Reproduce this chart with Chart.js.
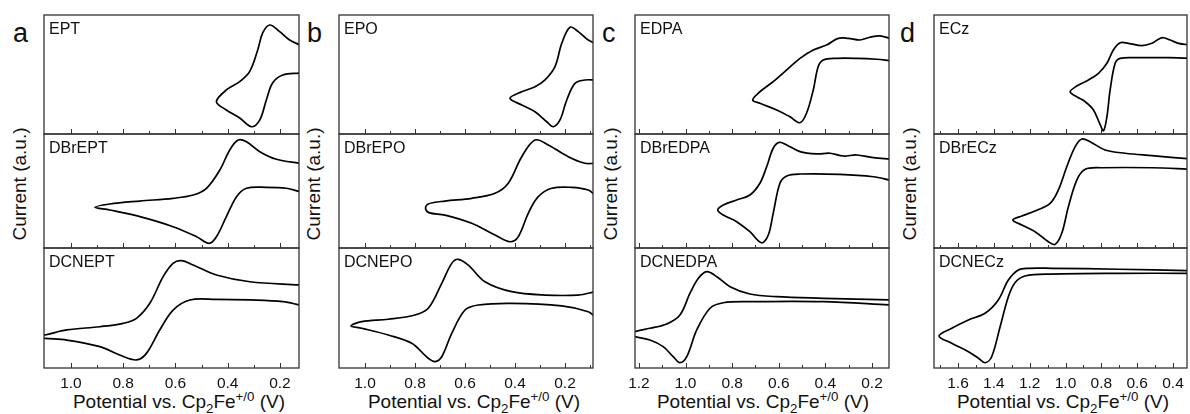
<!DOCTYPE html>
<html lang="en">
  <head>
    <meta charset="utf-8" />
    <title>Cyclic voltammograms</title>
    <style>
      * {
        margin: 0;
        padding: 0;
      }
      body {
        width: 1190px;
        height: 414px;
        position: relative;
        overflow: hidden;
        background: #fff;
        color: #111;
        font-family: "Liberation Sans", Arial, sans-serif;
      }
      .box {
        position: absolute;
      }
      .letter {
        position: absolute;
        font-size: 27px;
        line-height: 1;
      }
      .ytitle {
        position: absolute;
        top: 184px;
        font-size: 19px;
        line-height: 1;
        white-space: nowrap;
        transform: translate(-50%, -50%) rotate(-90deg);
      }
      .xtitle {
        position: absolute;
        top: 392px;
        font-size: 19px;
        line-height: 1;
        white-space: nowrap;
        transform: translateX(-50%);
      }
      sub,
      sup {
        font-size: 70%;
        line-height: 0;
      }
    </style>
  </head>
  <body>
    <div class="letter" style="left: 13px; top: 20px">a</div>
    <div class="letter" style="left: 307px; top: 20px">b</div>
    <div class="letter" style="left: 602px; top: 20px">c</div>
    <div class="letter" style="left: 900px; top: 20px">d</div>

    <div class="ytitle" style="left: 19px">Current (a.u.)</div>
    <div class="ytitle" style="left: 313px">Current (a.u.)</div>
    <div class="ytitle" style="left: 610px">Current (a.u.)</div>
    <div class="ytitle" style="left: 909px">Current (a.u.)</div>

    <div class="xtitle" style="left: 179px">Potential vs. Cp<sub>2</sub>Fe<sup>+/0</sup> (V)</div>
    <div class="xtitle" style="left: 474px">Potential vs. Cp<sub>2</sub>Fe<sup>+/0</sup> (V)</div>
    <div class="xtitle" style="left: 763px">Potential vs. Cp<sub>2</sub>Fe<sup>+/0</sup> (V)</div>
    <div class="xtitle" style="left: 1063px">Potential vs. Cp<sub>2</sub>Fe<sup>+/0</sup> (V)</div>

    <script src="https://cdn.jsdelivr.net/npm/chart.js"></script>
    <script>
      // data: each loop is traced upper branch (right -> left tip), then lower branch (tip -> right)
      // panel a
      const eptE = [0.124, 0.163, 0.201, 0.239, 0.266, 0.285, 0.316, 0.354, 0.405, 0.443,
        0.405, 0.354, 0.308, 0.277, 0.252, 0.228, 0.189, 0.124];
      const eptI = [74.8, 79, 86, 91.6, 84.9, 70.6, 52.4, 44, 37, 27.1,
        20.2, 13.4, 6.1, 11.8, 28.6, 42.9, 49.6, 51.3];

      const dbreptE = [0.124, 0.213, 0.277, 0.328, 0.36, 0.392, 0.43, 0.481, 0.532, 0.609, 0.736, 0.851, 0.908,
        0.851, 0.736, 0.609, 0.519, 0.471, 0.443, 0.405, 0.366, 0.328, 0.252, 0.175, 0.124];
      const dbreptI = [74.3, 77.8, 84.5, 93.2, 94.7, 86, 68.4, 52.4, 46.5, 43.6, 41.2, 38.6, 35.7,
        33.3, 27.5, 18.7, 9.9, 4.1, 9.9, 27.5, 45, 52.4, 53.2, 52.4, 49.4];

      const dcneptE = [0.124, 0.315, 0.443, 0.532, 0.577, 0.609, 0.647, 0.698, 0.749, 0.8, 0.889, 1.016, 1.099, 1.14,
        1.099, 1.016, 0.889, 0.813, 0.749, 0.711, 0.66, 0.609, 0.545, 0.443, 0.315, 0.188, 0.124];
      const dcneptI = [69.2, 71.9, 77.5, 85.8, 89.4, 87.2, 76.1, 53.9, 41.4, 37.2, 34.4, 31.7, 27.5, 26,
        24.7, 23.3, 17.8, 10.8, 6.7, 12.2, 31.7, 48.3, 56.7, 57.2, 56.7, 55.3, 52.5];

      // panel b
      const epoE = [0.08, 0.107, 0.147, 0.18, 0.213, 0.24, 0.28, 0.32, 0.373, 0.42,
        0.373, 0.32, 0.273, 0.247, 0.22, 0.193, 0.16, 0.12, 0.08];
      const epoI = [76.2, 79, 86, 89.7, 76.2, 56.6, 45.4, 39.7, 35.5, 30,
        24.4, 18.7, 10.3, 6.1, 11.8, 28.6, 42.6, 45.4, 45.4];

      const dbrepoE = [0.08, 0.12, 0.187, 0.267, 0.32, 0.373, 0.427, 0.48, 0.573, 0.68, 0.745, 0.758,
        0.745, 0.68, 0.573, 0.48, 0.42, 0.387, 0.347, 0.307, 0.253, 0.173, 0.107, 0.08];
      const dbrepoI = [74.3, 74.3, 80.1, 90.4, 94.7, 80.1, 56.8, 48, 43.6, 41.2, 38.8, 35,
        31, 28.9, 21.7, 11.4, 5.5, 9.9, 30.4, 45, 52.4, 53.2, 50.9, 46.5];

      const dcnepoE = [0.08, 0.147, 0.28, 0.413, 0.52, 0.587, 0.627, 0.653, 0.693, 0.747, 0.8, 0.907, 1.013, 1.056,
        1.013, 0.907, 0.813, 0.747, 0.72, 0.693, 0.653, 0.6, 0.547, 0.413, 0.213, 0.107, 0.08];
      const dcnepoI = [63.6, 60.8, 60.8, 63.6, 71.9, 85.8, 90.6, 87.2, 70.6, 49.8, 44.2, 40.6, 38.6, 35,
        33.1, 27.5, 20.6, 8.1, 5.3, 9.4, 28.9, 48.3, 52.5, 53.9, 51.7, 46.9, 42.8];

      // panel c
      const edpaE = [0.123, 0.166, 0.209, 0.252, 0.302, 0.345, 0.395, 0.452, 0.509, 0.566, 0.624, 0.681, 0.712,
        0.681, 0.609, 0.552, 0.509, 0.481, 0.452, 0.431, 0.409, 0.352, 0.266, 0.18, 0.123];
      const edpaI = [80.4, 82.4, 81.3, 79, 80.4, 80.4, 74.8, 70.6, 63.6, 53.8, 44, 35.5, 28.6,
        25.8, 20.2, 14.5, 9.5, 17.4, 37, 56.6, 62.2, 63.6, 63.6, 62.8, 61.6];

      const dbredpaE = [0.123, 0.194, 0.266, 0.323, 0.38, 0.437, 0.509, 0.566, 0.598, 0.624, 0.652, 0.681, 0.724, 0.781, 0.838, 0.862,
        0.838, 0.781, 0.724, 0.674, 0.645, 0.624, 0.595, 0.566, 0.509, 0.338, 0.194, 0.123];
      const dbredpaI = [78.1, 79.2, 81.6, 80.7, 83.1, 82.5, 84.5, 90.4, 92.7, 87.5, 71.3, 56.8, 46.5, 42.1, 37.7, 33.3,
        28.9, 23.1, 14.3, 4.6, 11.4, 30.4, 56.8, 63.2, 64.9, 64.6, 62.5, 59.6];

      const dcnedpaE = [0.123, 0.409, 0.609, 0.724, 0.809, 0.866, 0.909, 0.945, 0.981, 1.024, 1.081, 1.153, 1.217, 1.24,
        1.217, 1.153, 1.096, 1.053, 1.024, 0.995, 0.952, 0.895, 0.838, 0.724, 0.409, 0.123];
      const dcnedpaI = [56.7, 58.1, 59.4, 61.7, 67.8, 76.1, 80.3, 74.8, 62.3, 44.2, 36.7, 33.1, 30.3, 28.5,
        26.1, 23.3, 17.8, 9.4, 4.4, 9.4, 31.7, 49.8, 54.4, 55.3, 55.3, 52.5];

      // panel d
      const eczE = [0.304, 0.369, 0.416, 0.453, 0.481, 0.518, 0.574, 0.649, 0.695, 0.733, 0.769, 0.816, 0.872, 0.937, 0.974,
        0.937, 0.89, 0.844, 0.806, 0.788, 0.769, 0.751, 0.723, 0.695, 0.593, 0.425, 0.304];
      const eczI = [74.8, 76.2, 79, 80.9, 79.6, 76.2, 74.2, 76.2, 76.7, 70.6, 59.4, 51, 45.4, 40.3, 35.5,
        31.3, 27.1, 20.2, 7.6, 2.8, 14.5, 37, 59.4, 63.6, 64.1, 64.1, 63.6];

      const dbreczE = [0.304, 0.518, 0.667, 0.779, 0.863, 0.909, 0.946, 0.993, 1.04, 1.086, 1.17, 1.244, 1.294,
        1.244, 1.17, 1.096, 1.058, 1.021, 0.984, 0.937, 0.89, 0.797, 0.518, 0.304];
      const dbreczI = [78.1, 81, 83.1, 86, 93.2, 95.6, 88.9, 71.3, 50.9, 39.2, 32.5, 28.1, 24.6,
        20.2, 14.3, 5.5, 3.2, 12.9, 36.2, 59.6, 69, 70.4, 70.4, 69];

      const dcneczE = [0.304, 0.704, 1.077, 1.207, 1.263, 1.319, 1.375, 1.449, 1.542, 1.635, 1.706,
        1.635, 1.542, 1.486, 1.449, 1.412, 1.365, 1.319, 1.282, 1.226, 1.077, 0.704, 0.304];
      const dcneczI = [81.1, 82.3, 83.1, 83.1, 81.7, 73.3, 56.7, 45.6, 40, 33.1, 26.7,
        20.6, 13.6, 8.1, 4.4, 9.4, 34.4, 59.4, 71.1, 76.7, 78.3, 78.9, 78.9];

      // axis ranges (potential runs high -> low) and ticks
      const rangeA = [0.127, 1.103], rangeB = [0.088, 1.104], rangeC = [0.127, 1.217], rangeD = [0.322, 1.734];
      const ticksA = [1.0, 0.8, 0.6, 0.4, 0.2], minorA = [0.9, 0.7, 0.5, 0.3];
      const ticksB = [1.0, 0.8, 0.6, 0.4, 0.2], minorB = [0.9, 0.7, 0.5, 0.3, 0.1];
      const ticksC = [1.2, 1.0, 0.8, 0.6, 0.4, 0.2], minorC = [1.1, 0.9, 0.7, 0.5, 0.3];
      const ticksD = [1.6, 1.4, 1.2, 1.0, 0.8, 0.6, 0.4], minorD = [1.7, 1.5, 1.3, 1.1, 0.9, 0.7, 0.5];

      const labelsA = ["EPT", "DBrEPT", "DCNEPT"];
      const labelsB = ["EPO", "DBrEPO", "DCNEPO"];
      const labelsC = ["EDPA", "DBrEDPA", "DCNEDPA"];
      const labelsD = ["ECz", "DBrECz", "DCNECz"];

      // layout
      const panelLeft = [44, 339, 635, 934];
      const panelRight = [299, 593, 889, 1187];
      const rowTop = [15, 134, 248];
      const rowBottom = [134, 248, 368];
      const PAD_X = 26, PAD_Y = 3, AXIS_H = 30;

      const panels = [
        { range: rangeA, ticks: ticksA, minor: minorA, labels: labelsA, curves: [[eptE, eptI], [dbreptE, dbreptI], [dcneptE, dcneptI]] },
        { range: rangeB, ticks: ticksB, minor: minorB, labels: labelsB, curves: [[epoE, epoI], [dbrepoE, dbrepoI], [dcnepoE, dcnepoI]] },
        { range: rangeC, ticks: ticksC, minor: minorC, labels: labelsC, curves: [[edpaE, edpaI], [dbredpaE, dbredpaI], [dcnedpaE, dcnedpaI]] },
        { range: rangeD, ticks: ticksD, minor: minorD, labels: labelsD, curves: [[eczE, eczI], [dbreczE, dbreczI], [dcneczE, dcneczI]] },
      ];

      Chart.defaults.font.family = '"Liberation Sans", Arial, sans-serif';
      Chart.defaults.color = "#111";

      // frame, inward ticks and sample label
      const framePlugin = {
        id: "frame",
        afterDatasetsDraw(chart, args, opts) {
          const { ctx, chartArea: { left, right, top, bottom }, scales: { x } } = chart;
          ctx.save();
          ctx.strokeStyle = "#333";
          ctx.lineWidth = 1.3;
          ctx.strokeRect(left, top, right - left, bottom - top);
          ctx.lineWidth = 1;
          const tick = (v, len) => {
            const px = Math.round(x.getPixelForValue(v)) + 0.5;
            if (px <= left + 1 || px >= right - 1) return;
            ctx.beginPath();
            ctx.moveTo(px, bottom);
            ctx.lineTo(px, bottom - len);
            ctx.stroke();
          };
          opts.major.forEach((v) => tick(v, 5));
          opts.minor.forEach((v) => tick(v, 3));
          ctx.fillStyle = "#111";
          ctx.font = '16px "Liberation Sans", Arial, sans-serif';
          ctx.textBaseline = "alphabetic";
          ctx.fillText(opts.label, left + 5, top + 19);
          ctx.restore();
        },
      };

      panels.forEach((p, pi) => {
        p.curves.forEach(([E, I], ri) => {
          const isBottom = ri === 2;
          const box = document.createElement("div");
          box.className = "box";
          box.style.left = panelLeft[pi] - PAD_X + "px";
          box.style.top = rowTop[ri] - PAD_Y + "px";
          box.style.width = panelRight[pi] - panelLeft[pi] + 2 * PAD_X + "px";
          box.style.height = rowBottom[ri] - rowTop[ri] + 2 * PAD_Y + (isBottom ? AXIS_H : 0) + "px";
          const canvas = document.createElement("canvas");
          box.appendChild(canvas);
          document.body.appendChild(box);

          new Chart(canvas, {
            type: "scatter",
            data: {
              datasets: [
                {
                  data: E.map((e, i) => ({ x: e, y: I[i] })),
                  showLine: true,
                  borderColor: "#000",
                  borderWidth: 1.7,
                  pointRadius: 0,
                  tension: 0.35,
                },
              ],
            },
            options: {
              responsive: true,
              maintainAspectRatio: false,
              animation: false,
              events: [],
              layout: { padding: { left: PAD_X, right: PAD_X, top: PAD_Y, bottom: PAD_Y } },
              plugins: {
                legend: { display: false },
                tooltip: { enabled: false },
                frame: { label: p.labels[ri], major: p.ticks, minor: p.minor },
              },
              scales: {
                x: {
                  type: "linear",
                  reverse: true,
                  min: p.range[0],
                  max: p.range[1],
                  display: isBottom,
                  grid: { display: false, drawTicks: false },
                  border: { display: false },
                  ticks: {
                    padding: 6,
                    font: { size: 15.5 },
                    color: "#111",
                    callback: (v) => v.toFixed(1),
                  },
                  afterBuildTicks: (axis) => {
                    axis.ticks = p.ticks.map((v) => ({ value: v }));
                  },
                  afterFit: (axis) => {
                    if (!isBottom) return;
                    axis.paddingLeft = 0;
                    axis.paddingRight = 0;
                    axis.height = AXIS_H;
                  },
                },
                y: { display: false, min: 0, max: 100 },
              },
            },
            plugins: [framePlugin],
          });
        });
      });
    </script>
  </body>
</html>
